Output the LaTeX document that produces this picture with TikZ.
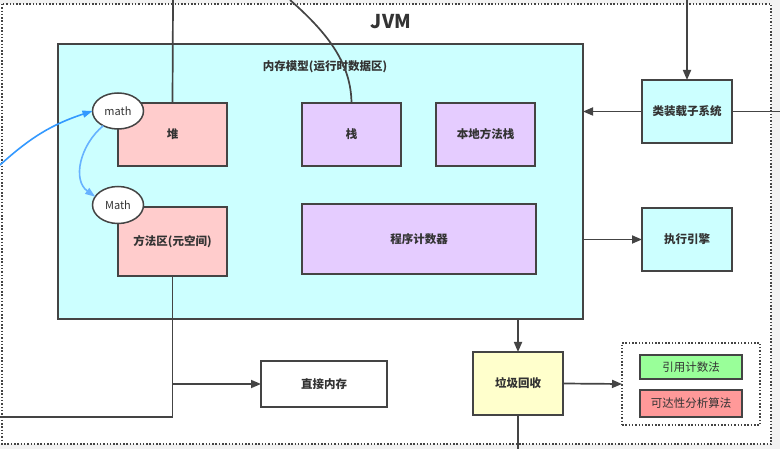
\documentclass[tikz,border=0pt]{standalone}
\usepackage{fontspec}
\setmainfont{Noto Sans CJK SC}
\usetikzlibrary{arrows.meta,shapes.geometric}

\definecolor{ink}{HTML}{444444}
\definecolor{txt}{HTML}{333333}
\definecolor{memcyan}{HTML}{CCFFFF}
\definecolor{heapred}{HTML}{FFCCCC}
\definecolor{stackviolet}{HTML}{E5CCFF}
\definecolor{gcyellow}{HTML}{FFFFCC}
\definecolor{okgreen}{HTML}{99FF99}
\definecolor{badred}{HTML}{FF9999}
\definecolor{linkblue}{HTML}{3399FF}
\definecolor{linkblue2}{HTML}{66B2FF}
\definecolor{pagegray}{HTML}{F2F2F2}

\tikzset{
  box/.style={draw=ink, line width=1.5pt, rectangle, inner sep=0pt, outer sep=0pt,
    text=txt, font=\fontsize{11.5}{13}\selectfont\bfseries, align=center},
  plainbox/.style={box, font=\fontsize{11.5}{13}\selectfont},
  bubble/.style={draw=ink, line width=1.5pt, ellipse, fill=white, inner sep=0pt,
    outer sep=0pt, minimum width=51pt, minimum height=36pt, text=txt,
    font=\fontsize{11}{13}\selectfont},
  wire/.style={draw=ink, line width=1.7pt},
  arr/.style={wire, -{Triangle[length=10pt,width=8pt]}},
  bluearr/.style={line width=1.6pt, -{Triangle[length=10pt,width=7pt]}},
  dotframe/.style={draw=ink, line width=1.3pt, dash pattern=on 1.5pt off 1.8pt},
}

\begin{document}
\begin{tikzpicture}[x=1pt, y=-1pt]
  % page and outer JVM frame
  \fill[pagegray] (0,0) rectangle (780,449);
  \fill[white] (0,4) rectangle (771,444);
  \path[use as bounding box] (0,0) rectangle (780,449);
  \draw[dotframe] (2,4) rectangle (771,444);
  \node[text=txt, font=\fontsize{19}{21}\selectfont\bfseries] (jvm) at (391,22) {JVM};

  % runtime data areas
  \node[box, fill=memcyan, minimum width=525pt, minimum height=275pt] (mem) at (320.5,181.5) {};
  \node[text=txt, font=\fontsize{11.5}{13}\selectfont\bfseries] (memlabel) at (325,67) {内存模型(运行时数据区)};
  \node[box, fill=heapred, minimum width=109pt, minimum height=63pt] (heap) at (172.5,134.5) {堆};
  \node[box, fill=stackviolet, minimum width=99pt, minimum height=63pt] (stack) at (351.5,134.5) {栈};
  \node[box, fill=stackviolet, minimum width=99pt, minimum height=63pt] (native) at (485.5,134.5) {本地方法栈};
  \node[box, fill=stackviolet, minimum width=234pt, minimum height=70pt] (pc) at (419,239) {程序计数器};
  \node[box, fill=heapred, minimum width=109pt, minimum height=69pt] (method) at (172.5,241.5) {方法区(元空间)};
  \node[bubble] (math) at (118,111) {math};
  \node[bubble, minimum height=37pt] (Math) at (118,205) {Math};

  % subsystems around the memory model
  \node[box, fill=memcyan, minimum width=90pt, minimum height=63pt] (loader) at (687,111.5) {类装载子系统};
  \node[box, fill=memcyan, minimum width=90pt, minimum height=63pt] (exec) at (687,239.5) {执行引擎};
  \node[box, fill=white, minimum width=126pt, minimum height=46pt] (direct) at (324,384) {直接内存};
  \node[box, fill=gcyellow, minimum width=90pt, minimum height=63pt] (gc) at (518,383.5) {垃圾回收};

  % garbage collection algorithms
  \node[dotframe, rectangle, minimum width=138pt, minimum height=82pt, inner sep=0pt, outer sep=0pt] (algs) at (691,384) {};
  \node[plainbox, fill=okgreen, minimum width=102pt, minimum height=24pt] (refcount) at (691,367) {引用计数法};
  \node[plainbox, fill=badred, minimum width=102pt, minimum height=27pt] (reach) at (691,403.5) {可达性分析算法};

  % free ends of connectors leaving the frame
  \coordinate (topA) at (173,0);
  \coordinate (topB) at (290,0);
  \coordinate (topC) at (687,0);
  \coordinate (rightA) at (780,111.5);
  \coordinate (leftA) at (0,165);
  \coordinate (leftB) at (0,417);
  \coordinate (botC) at (518,449);

  % connectors
  \draw[wire] (topA) -- (heap.north);
  \draw[wire] (topB) .. controls (330,35) and (351,65) .. (stack.north);
  \draw[arr] (topC) -- (loader.north);
  \draw[wire] (rightA) -- (loader.east);
  \draw[arr] (loader.west) -- (loader.west -| mem.east);
  \draw[arr] (mem.east |- exec.west) -- (exec.west);
  \draw[arr] (mem.south -| gc.north) -- (gc.north);
  \draw[arr] (gc.east) -- (algs.west);
  \draw[wire] (gc.south) -- (botC);
  \draw[wire] (method.south) |- (leftB);
  \draw[arr] (method.south |- direct.west) -- (direct.west);

  % references to the Math class
  \draw[bluearr, draw=linkblue] (leftA) to[bend left=12] (math.west);
  \draw[bluearr, draw=linkblue2] (math.225) .. controls (80,145) and (72,180) .. (Math.160);
\end{tikzpicture}
\end{document}
